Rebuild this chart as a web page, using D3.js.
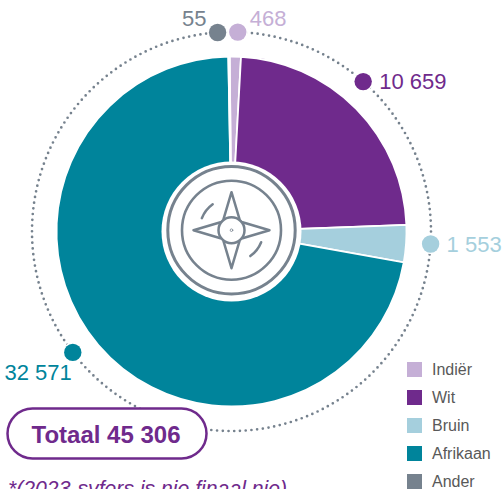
<!DOCTYPE html>
<html><head><meta charset="utf-8">
<script src="https://d3js.org/d3.v7.min.js"></script>
<style>html,body{margin:0;padding:0;background:#fff;overflow:hidden}svg{display:block;font-family:"Liberation Sans",Arial,sans-serif}</style>
</head><body><svg id="c" width="503" height="489"></svg>
<script>
const categories=["Indiër","Wit","Bruin","Afrikaan","Ander"];
const values=[468,10659,1553,32571,55];
const valueLabels=["468","10 659","1 553","32 571","55"];
const colors=["#c5afd6","#6f2a8c","#a5cfdd","#00849b","#76828e"];
const dotAngles=[1.8,41.3,93.6,232.7,356];
const totalLabel="Totaal 45 306";
const footnote="*(2023-syfers is nie finaal nie)";

const svg=d3.select("#c"),cx=231.5,cy=231.5,R=175,ringR=199.5,gray="#76828e";
const color=d3.scaleOrdinal(categories,colors);
const a=d3.scaleLinear([0,360],[0,2*Math.PI]);
const pie=d3.pie().sort(null).value(d=>d.v).startAngle(a(-0.6)).endAngle(a(359.4));
const data=categories.map((c,i)=>({c,v:values[i]}));
const g=svg.append("g").attr("transform",`translate(${cx},${cy})`);
g.append("circle").attr("r",ringR).attr("fill","none").attr("stroke",gray).attr("stroke-width",2.7)
 .attr("stroke-linecap","round").attr("stroke-dasharray","0 5.75");
g.selectAll("path.s").data(pie(data)).join("path").attr("class","s")
 .attr("d",d3.arc().innerRadius(0).outerRadius(R)).attr("fill",d=>color(d.data.c))
 .attr("stroke","#fff").attr("stroke-width",1.8);
g.append("circle").attr("r",70).attr("fill","#fff");

// value dots and labels
const px=d=>ringR*Math.sin(a(d)),py=d=>-ringR*Math.cos(a(d));
const lab=[{dx:12,dy:-6,an:"start"},{dx:16,dy:7,an:"start"},{dx:16,dy:8,an:"start"},{dx:-1,dy:28,an:"end"},{dx:-11,dy:-6,an:"end"}];
const dots=g.selectAll("g.d").data(categories).join("g").attr("class","d")
 .attr("transform",(c,i)=>`translate(${px(dotAngles[i])},${py(dotAngles[i])})`);
dots.append("circle").attr("r",8.7).attr("fill",c=>color(c)).attr("stroke","#fff").attr("stroke-width",3).attr("paint-order","stroke");
dots.append("text").text((c,i)=>valueLabels[i]).attr("x",(c,i)=>lab[i].dx).attr("y",(c,i)=>lab[i].dy)
 .attr("text-anchor",(c,i)=>lab[i].an).attr("font-size",22).attr("fill",c=>color(c));

// compass icon
const ic=svg.append("g").attr("transform",`translate(${cx},${cy-1.3})`).attr("fill","none").attr("stroke",gray).attr("stroke-linecap","round").attr("stroke-linejoin","round");
ic.append("circle").attr("r",63.7).attr("stroke-width",3);
ic.append("circle").attr("r",49.5).attr("stroke-width",2.6);
const line=d3.line();
[0,90,180,270].forEach(t=>{
  ic.append("path").attr("transform",`rotate(${t})`).attr("stroke-width",2.5)
    .attr("d",line([[-8,-11],[0,-38],[8,-11]]));
});
ic.append("circle").attr("r",13).attr("stroke-width",2.5).attr("fill","#fff");
ic.append("circle").attr("r",1.3).attr("stroke-width",.8);
[[-68*Math.PI/180,-36*Math.PI/180],[112*Math.PI/180,144*Math.PI/180]].forEach(([s,e])=>{
  ic.append("path").attr("stroke-width",2.5)
    .attr("d",d3.arc().innerRadius(32).outerRadius(32).startAngle(s).endAngle(e)());
});

// total pill
svg.append("rect").attr("x",7.5).attr("y",408.5).attr("width",199).attr("height",50).attr("rx",25)
 .attr("fill","#fff").attr("stroke","#6f2a8c").attr("stroke-width",2.5);
svg.append("text").text(totalLabel).attr("x",106).attr("y",443).attr("text-anchor","middle")
 .attr("font-size",24).attr("font-weight","bold").attr("fill","#6f2a8c");
svg.append("text").text(footnote).attr("x",8).attr("y",496).attr("font-size",21.2)
 .attr("font-style","italic").attr("fill","#6f2a8c");

// legend
const y=d3.scalePoint(categories,[362,474]);
const lg=svg.selectAll("g.l").data(categories).join("g").attr("class","l").attr("transform",c=>`translate(407,${y(c)})`);
lg.append("rect").attr("width",15).attr("height",15).attr("fill",c=>color(c));
lg.append("text").text(c=>c).attr("x",25).attr("y",13).attr("font-size",16).attr("fill","#595959");
</script></body></html>
